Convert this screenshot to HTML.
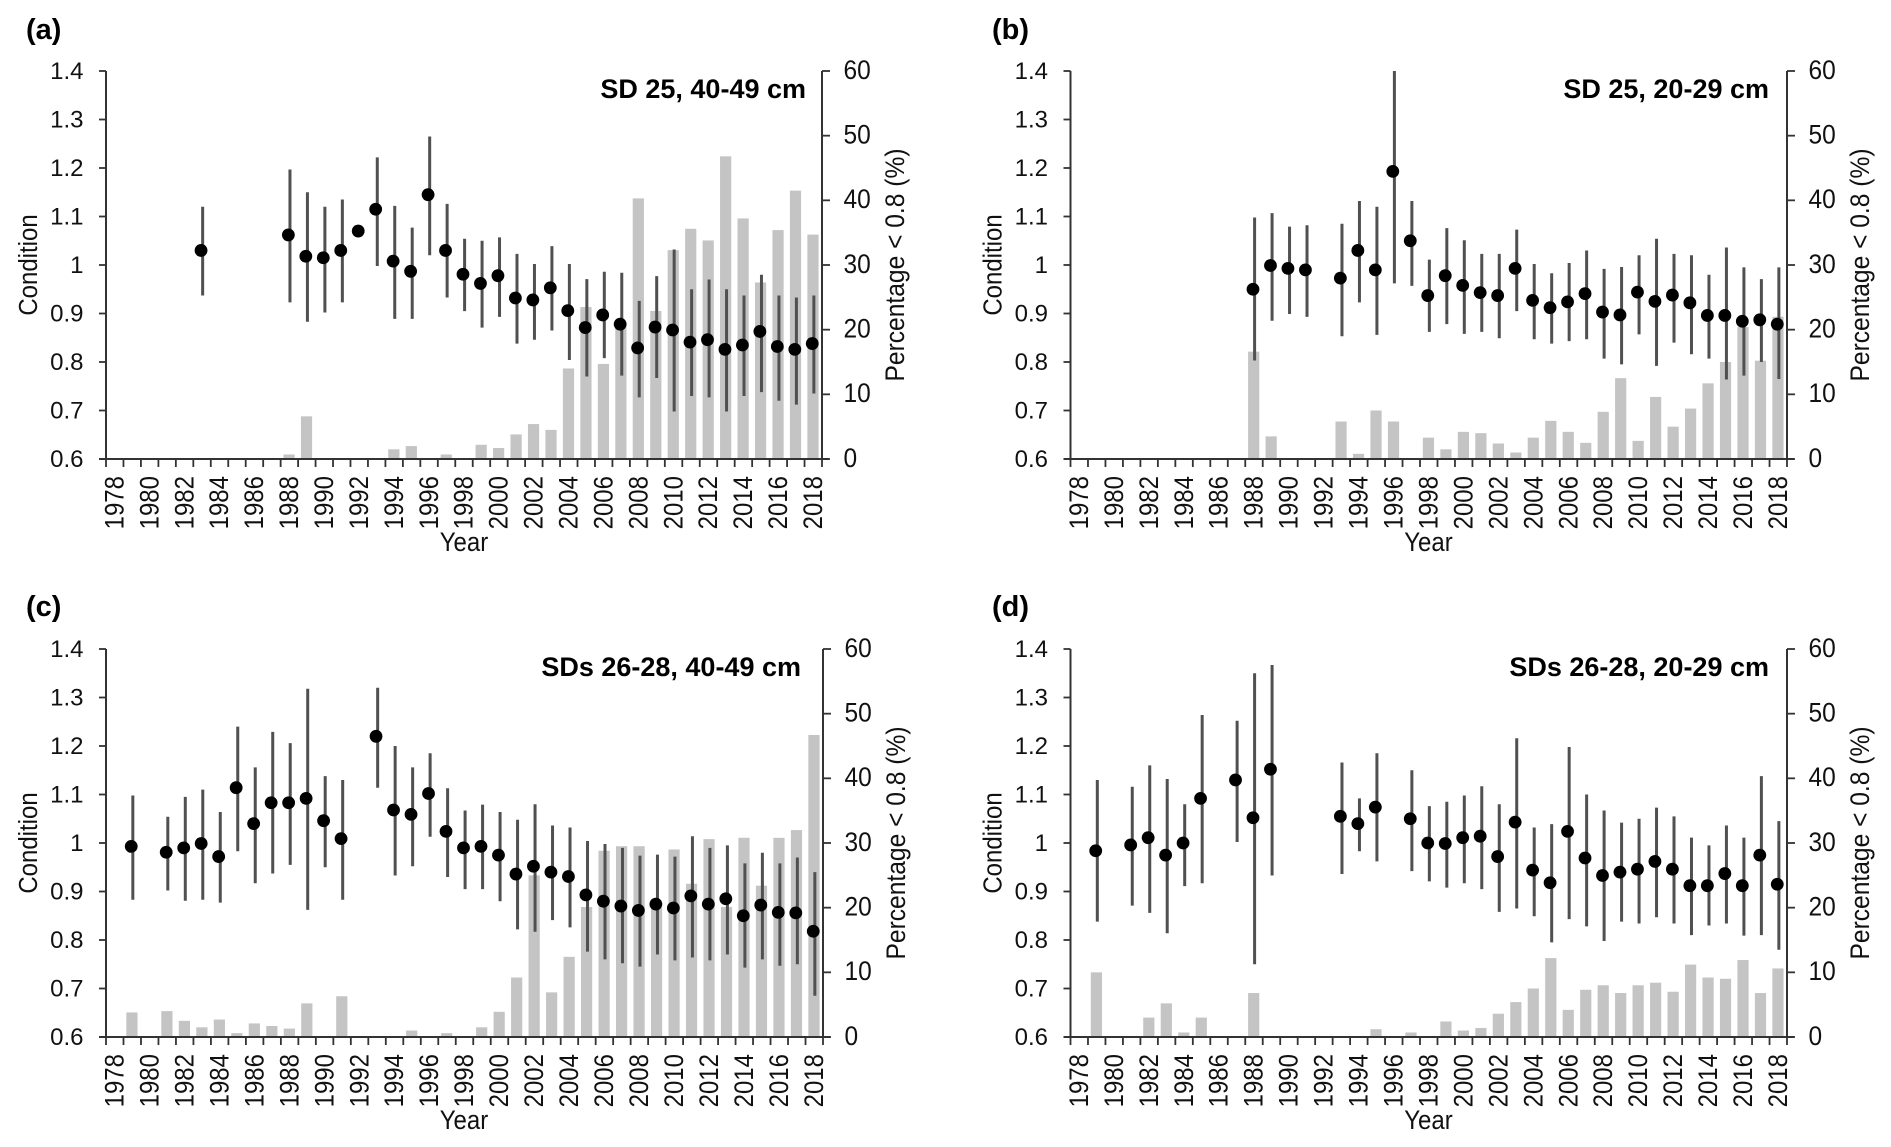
<!DOCTYPE html>
<html lang="en">
<head>
<meta charset="utf-8">
<title>Condition and percentage below 0.8 by year</title>
<style>
html,body{margin:0;padding:0;background:#fff;}
svg{display:block;font-family:"Liberation Sans",Arial,sans-serif;fill:#111;}
.ttl{font-weight:bold;font-size:27px;text-anchor:end;fill:#000;}
.pl{font-weight:bold;font-size:29px;fill:#000;}
</style>
</head>
<body>
<svg id="fig" xmlns="http://www.w3.org/2000/svg" width="1891" height="1147" viewBox="0 0 1891 1147">
  <rect width="1891" height="1147" fill="#fff"/>
  <g id="panel-a">
    <text class="pl" x="26" y="39">(a)</text>
  </g>
  <g id="panel-b">
    <text class="pl" x="992" y="39">(b)</text>
  </g>
  <g id="panel-c">
    <text class="pl" x="26" y="616">(c)</text>
  </g>
  <g id="panel-d">
    <text class="pl" x="992" y="616">(d)</text>
  </g>
</svg>
<script>
const firstYear = 1978;
const lastYear = 2018;
const leftTicks = ['0.6','0.7','0.8','0.9','1','1.1','1.2','1.3','1.4'];
const rightTicks = ['0','10','20','30','40','50','60'];
const yearTicks = ['1978','1980','1982','1984','1986','1988','1990','1992','1994','1996','1998','2000','2002','2004','2006','2008','2010','2012','2014','2016','2018'];

const titleA = 'SD 25, 40-49 cm';
const condYearsA = [1983,1988,1989,1990,1991,1992,1993,1994,1995,1996,1997,1998,1999,2000,2001,2002,2003,2004,2005,2006,2007,2008,2009,2010,2011,2012,2013,2014,2015,2016,2017,2018];
const condA  = [1.03,1.062,1.018,1.015,1.03,1.07,1.115,1.008,.987,1.145,1.03,.981,.962,.978,.932,.928,.953,.906,.871,.897,.878,.829,.872,.866,.841,.846,.826,.835,.863,.832,.826,.838];
const upperA = [1.12,1.197,1.15,1.12,1.135,null,1.222,1.122,1.077,1.265,1.126,1.054,1.05,1.057,1.023,1.002,1.039,1.002,.971,.986,.984,.926,.977,1.032,.95,.97,.95,.937,.98,.937,.933,.937];
const lowerA = [.937,.923,.883,.902,.923,null,.998,.889,.889,1.02,.933,.905,.871,.893,.838,.846,.865,.804,.77,.808,.772,.727,.767,.698,.73,.727,.698,.73,.738,.72,.712,.735];
const barYearsA = [1988,1989,1994,1995,1997,1999,2000,2001,2002,2003,2004,2005,2006,2007,2008,2009,2010,2011,2012,2013,2014,2015,2016,2017,2018];
const barsA = [.7,6.6,1.5,2,.7,2.2,1.7,3.8,5.4,4.5,14,23.5,14.7,20.6,40.3,22.9,32.3,35.6,33.8,46.8,37.2,27.3,35.4,41.5,34.7];

const titleB = 'SD 25, 20-29 cm';
const condYearsB = [1988,1989,1990,1991,1993,1994,1995,1996,1997,1998,1999,2000,2001,2002,2003,2004,2005,2006,2007,2008,2009,2010,2011,2012,2013,2014,2015,2016,2017,2018];
const condB  = [.95,.999,.993,.99,.973,1.03,.99,1.193,1.05,.937,.978,.958,.943,.937,.993,.927,.912,.924,.941,.903,.897,.944,.925,.938,.922,.896,.896,.884,.887,.878];
const upperB = [1.098,1.107,1.079,1.082,1.085,1.132,1.12,1.4,1.132,1.011,1.076,1.051,1.023,1.023,1.073,1.002,.983,1.004,1.03,.992,.996,1.02,1.054,1.023,1.02,.98,1.036,.995,.971,.995];
const lowerB = [.803,.885,.899,.893,.853,.923,.856,.962,.957,.862,.878,.858,.862,.849,.905,.847,.838,.843,.847,.807,.795,.857,.792,.84,.816,.807,.764,.772,.8,.765];
const barYearsB = [1988,1989,1993,1994,1995,1996,1998,1999,2000,2001,2002,2003,2004,2005,2006,2007,2008,2009,2010,2011,2012,2013,2014,2015,2016,2017,2018];
const barsB = [16.6,3.5,5.8,.8,7.5,5.8,3.3,1.5,4.2,4,2.4,1,3.3,5.9,4.2,2.5,7.3,12.5,2.8,9.6,5,7.8,11.7,15,20.4,15.2,22];

const titleC = 'SDs 26-28, 40-49 cm';
const condYearsC = [1979,1981,1982,1983,1984,1985,1986,1987,1988,1989,1990,1991,1993,1994,1995,1996,1997,1998,1999,2000,2001,2002,2003,2004,2005,2006,2007,2008,2009,2010,2011,2012,2013,2014,2015,2016,2017,2018];
const condC  = [.993,.981,.99,.999,.972,1.114,1.04,1.083,1.083,1.092,1.046,1.009,1.22,1.068,1.059,1.102,1.024,.99,.993,.975,.936,.952,.94,.931,.893,.88,.87,.861,.874,.866,.891,.874,.885,.85,.872,.857,.856,.818];
const upperC = [1.098,1.054,1.095,1.11,1.064,1.24,1.156,1.229,1.206,1.318,1.138,1.13,1.32,1.2,1.156,1.185,1.113,1.067,1.079,1.064,1.048,1.08,1.036,1.032,1.004,.998,.99,.974,.976,.972,1.014,.99,.995,.958,.98,.958,.97,.94];
const lowerC = [.883,.902,.881,.883,.877,.983,.917,.937,.955,.862,.95,.883,1.114,.933,.952,1.013,.93,.905,.905,.88,.822,.817,.841,.826,.776,.76,.752,.745,.77,.758,.764,.758,.77,.743,.76,.747,.75,.685];
const barYearsC = [1979,1981,1982,1983,1984,1985,1986,1987,1988,1989,1991,1995,1997,1999,2000,2001,2002,2003,2004,2005,2006,2007,2008,2009,2010,2011,2012,2013,2014,2015,2016,2017,2018];
const barsC = [3.8,4,2.5,1.5,2.7,.6,2.1,1.7,1.3,5.2,6.3,1,.6,1.5,3.9,9.2,25,6.9,12.4,20.1,28.8,29.5,29.5,20,29,23.7,30.6,20.1,30.8,23.4,30.8,32,46.7];

const titleD = 'SDs 26-28, 20-29 cm';
const condYearsD = [1979,1981,1982,1983,1984,1985,1987,1988,1989,1993,1994,1995,1997,1998,1999,2000,2001,2002,2003,2004,2005,2006,2007,2008,2009,2010,2011,2012,2013,2014,2015,2016,2017,2018];
const condD  = [.984,.996,1.011,.975,1.0,1.092,1.13,1.052,1.152,1.055,1.04,1.074,1.05,1.0,.999,1.011,1.014,.972,1.043,.944,.918,1.024,.969,.933,.94,.946,.962,.946,.912,.912,.937,.912,.975,.915];
const upperD = [1.13,1.116,1.16,1.132,1.08,1.264,1.252,1.35,1.367,1.166,1.092,1.185,1.15,1.076,1.085,1.098,1.117,1.08,1.216,1.032,1.039,1.198,1.1,1.067,1.042,1.05,1.073,1.055,1.011,.995,1.036,1.011,1.138,1.045];
const lowerD = [.838,.871,.856,.814,.911,.917,1.002,.75,.933,.936,.983,.962,.942,.921,.908,.917,.905,.858,.865,.849,.795,.843,.828,.798,.838,.834,.847,.834,.81,.83,.834,.809,.81,.78];
const barYearsD = [1979,1982,1983,1984,1985,1988,1995,1997,1999,2000,2001,2002,2003,2004,2005,2006,2007,2008,2009,2010,2011,2012,2013,2014,2015,2016,2017,2018];
const barsD = [10,3,5.2,.7,3,6.8,1.2,.7,2.4,1,1.4,3.6,5.4,7.5,12.2,4.2,7.3,8,6.8,8,8.4,7,11.2,9.2,9,11.9,6.8,10.6];

const NS = 'http://www.w3.org/2000/svg';
const AXIS = '#333333';

function mk(parent, tag, attrs, txt) {
  const el = document.createElementNS(NS, tag);
  for (const k in attrs) el.setAttribute(k, attrs[k]);
  if (txt !== undefined) el.textContent = txt;
  parent.appendChild(el);
  return el;
}

function drawPanel(o) {
  const g = document.getElementById(o.id);
  const L = o.left, R = o.right, T = o.top, B = o.bottom;
  const nBands = lastYear - firstYear + 1;
  const band = (R - L) / nBands;
  const xEdge = i => L + i * band;
  const xYear = y => L + (y - firstYear + 0.5) * band;
  const yCond = v => B - (v - 0.6) / 0.8 * (B - T);
  const yPct = v => B - v / 60 * (B - T);

  o.barYears.forEach((yr, i) => {
    const h = B - yPct(o.bars[i]);
    const r = mk(g, 'rect', {x: xYear(yr) - 5.9, y: yPct(o.bars[i]), width: 11.2, height: h, fill: '#c4c4c4'});
    
    
  });

  o.condYears.forEach((yr, i) => {
    if (o.upper[i] === null) return;
    const l = mk(g, 'line', {x1: xYear(yr) + 0.6, x2: xYear(yr) + 0.6, y1: yCond(o.upper[i]), y2: yCond(o.lower[i]), stroke: '#505050', 'stroke-width': 3});
    
    
  });

  o.condYears.forEach((yr, i) => {
    const c = mk(g, 'circle', {cx: xYear(yr) - 1, cy: yCond(o.cond[i]), r: 6.4, fill: '#000'});
    
    
  });

  const yAxis = mk(g, 'line', {x1: L, x2: L, y1: T, y2: B, stroke: AXIS, 'stroke-width': 2});
  
  
  const rAxis = mk(g, 'line', {x1: R, x2: R, y1: T, y2: B, stroke: AXIS, 'stroke-width': 2});
  
  
  const xAxis = mk(g, 'line', {x1: L - 7, x2: R + 7, y1: B, y2: B, stroke: AXIS, 'stroke-width': 2});
  
  

  for (let i = 0; i <= nBands; i++) {
    const t = mk(g, 'line', {x1: xEdge(i), x2: xEdge(i), y1: B, y2: B + 8, stroke: AXIS, 'stroke-width': 1.8});
    
    
  }

  leftTicks.forEach(lab => {
    const y = yCond(parseFloat(lab));
    const t = mk(g, 'line', {x1: L - 7, x2: L, y1: y, y2: y, stroke: AXIS, 'stroke-width': 1.8});
    
    
    const s = mk(g, 'text', {x: L - 22.5, y: y + 8.2, 'font-size': 24, 'text-anchor': 'end'}, lab);
    
    
  });

  rightTicks.forEach(lab => {
    const y = yPct(parseFloat(lab));
    const t = mk(g, 'line', {x1: R, x2: R + 8, y1: y, y2: y, stroke: AXIS, 'stroke-width': 1.8});
    
    
    const s = mk(g, 'text', {transform: 'translate(' + (R + 21.5) + ',' + (y + 7.8) + ') scale(1,1.1)', 'font-size': 24.5}, lab);
    
    
  });

  yearTicks.forEach(lab => {
    const x = xYear(parseInt(lab, 10));
    const s = mk(g, 'text', {transform: 'translate(' + (x + 8.7) + ',' + (B + 17) + ') rotate(-90) scale(1,1.12)', 'font-size': 24, 'text-anchor': 'end'}, lab);
    
    
  });

  const xt = mk(g, 'text', {transform: 'translate(' + (L + 358) + ',' + (B + 92) + ') scale(1,1.1)', 'font-size': 24, 'text-anchor': 'middle'}, 'Year');
  
  
  const yt = mk(g, 'text', {transform: 'translate(' + (L - 69) + ',' + (T + 194) + ') rotate(-90) scale(1,1.08)', 'font-size': 24, 'text-anchor': 'middle'}, 'Condition');
  
  
  const rt = mk(g, 'text', {transform: 'translate(' + (R + 82) + ',' + (T + 194) + ') rotate(-90) scale(1,1.1)', 'font-size': 24.6, 'text-anchor': 'middle'}, 'Percentage < 0.8 (%)');
  
  
  const tt = mk(g, 'text', {class: 'ttl', x: o.titleX, y: T + 27}, o.title);
  
  
}

drawPanel({id:'panel-a', left:106, right:822, top:71, bottom:459, titleX:806, title:titleA, condYears:condYearsA, cond:condA, upper:upperA, lower:lowerA, barYears:barYearsA, bars:barsA});
drawPanel({id:'panel-b', left:1070.5, right:1787, top:71, bottom:459, titleX:1769, title:titleB, condYears:condYearsB, cond:condB, upper:upperB, lower:lowerB, barYears:barYearsB, bars:barsB});
drawPanel({id:'panel-c', left:106, right:823, top:649, bottom:1037, titleX:801, title:titleC, condYears:condYearsC, cond:condC, upper:upperC, lower:lowerC, barYears:barYearsC, bars:barsC});
drawPanel({id:'panel-d', left:1070.5, right:1787, top:649, bottom:1037, titleX:1769, title:titleD, condYears:condYearsD, cond:condD, upper:upperD, lower:lowerD, barYears:barYearsD, bars:barsD});
</script>
</body>
</html>
